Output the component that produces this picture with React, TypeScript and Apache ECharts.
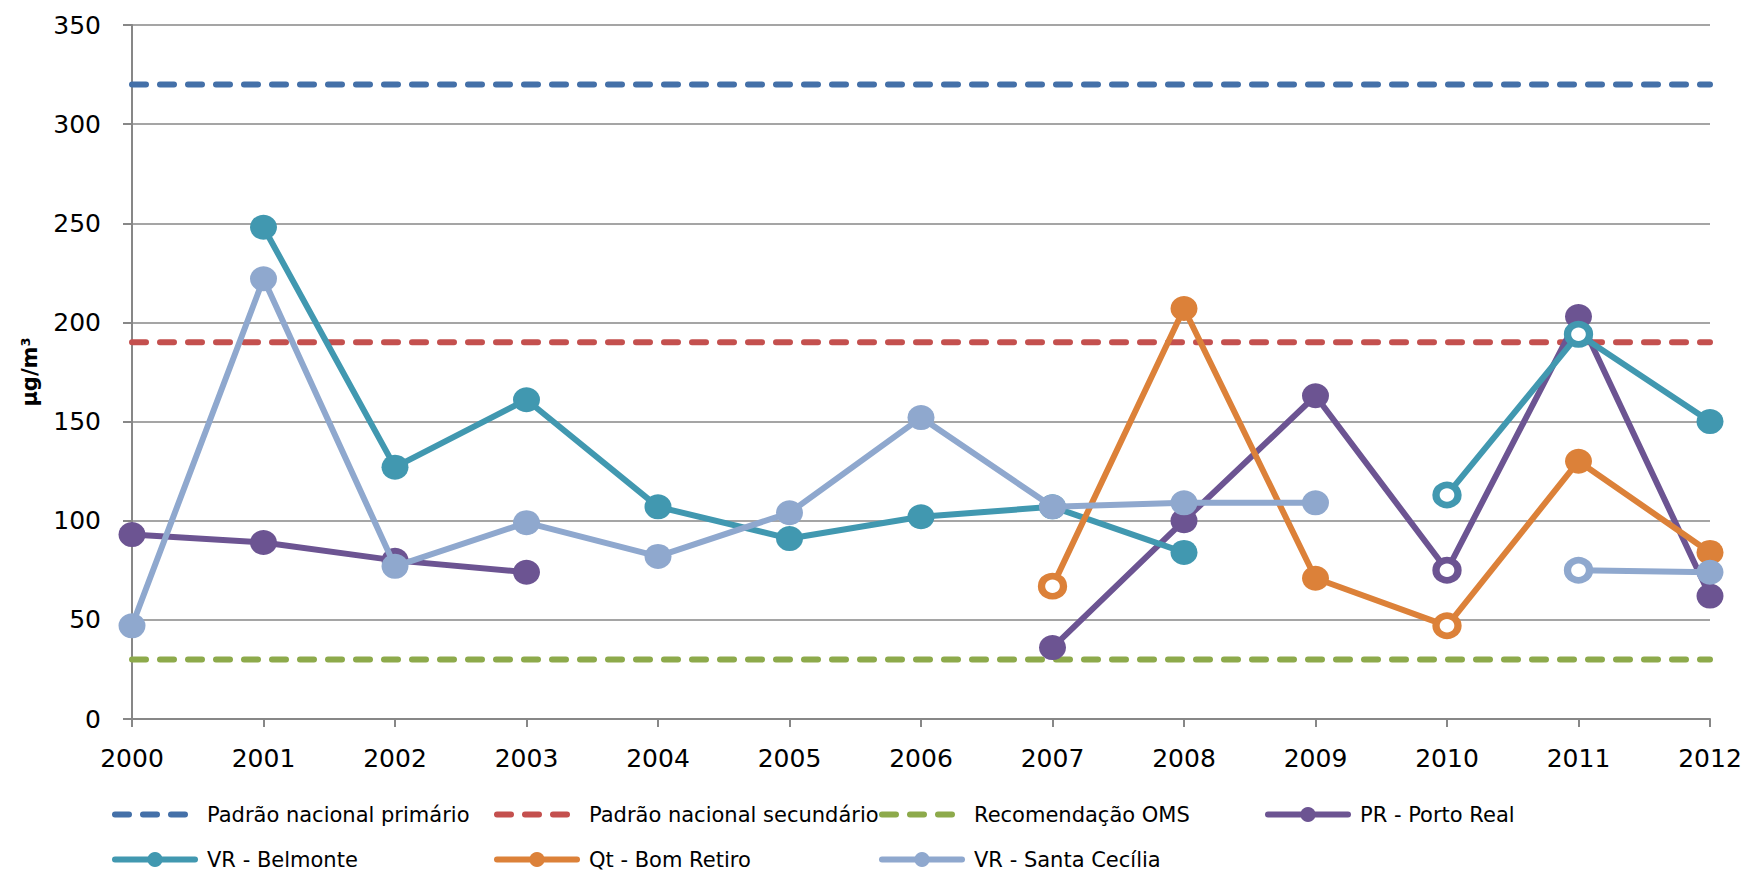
import React, { useEffect, useRef } from 'react';
import * as echarts from 'echarts';

const years = ['2000', '2001', '2002', '2003', '2004', '2005', '2006', '2007', '2008', '2009', '2010', '2011', '2012'];
const yTicks = { min: 0, max: 350, interval: 50 };

const padraoPrimario = [320, 320, 320, 320, 320, 320, 320, 320, 320, 320, 320, 320, 320];
const padraoSecundario = [190, 190, 190, 190, 190, 190, 190, 190, 190, 190, 190, 190, 190];
const recomendacaoOMS = [30, 30, 30, 30, 30, 30, 30, 30, 30, 30, 30, 30, 30];

const portoReal = [93, 89, 80, 74, null, null, null, 36, 100, 163, 75, 203, 62];
const belmonte = [null, 248, 127, 161, 107, 91, 102, 107, 84, null, 113, 194, 150];
const bomRetiro = [null, null, null, null, null, null, null, 67, 207, 71, 47, 130, 84];
const santaCecilia = [47, 222, 77, 99, 82, 104, 152, 107, 109, 109, null, 75, 74];

// years whose markers are drawn hollow
const portoRealOpen = ['2010'];
const belmonteOpen = ['2010', '2011'];
const bomRetiroOpen = ['2007', '2010'];
const santaCeciliaOpen = ['2011'];

const FONT = 'DejaVu Sans';

function markers(values: (number | null)[], open: string[], color: string) {
  return values.map((v, i) =>
    v === null
      ? null
      : open.includes(years[i])
      ? { value: v, symbolSize: [22, 20], itemStyle: { color: '#ffffff', borderColor: color, borderWidth: 7 } }
      : v
  );
}

function dashed(name: string, data: number[], color: string) {
  return {
    name,
    type: 'line',
    data,
    symbol: 'none',
    silent: true,
    z: 1,
    itemStyle: { color },
    lineStyle: { color, width: 6, type: [14, 14], cap: 'round' },
  };
}

function solid(name: string, values: (number | null)[], open: string[], color: string, z: number) {
  return {
    name,
    type: 'line',
    data: markers(values, open, color),
    symbol: 'circle',
    symbolSize: [27, 25],
    connectNulls: false,
    z,
    itemStyle: { color },
    lineStyle: { color, width: 6, join: 'round', cap: 'round' },
  };
}

export default function App() {
  const ref = useRef<HTMLDivElement>(null);
  useEffect(() => {
    if (!ref.current) return;
    const chart = echarts.init(ref.current, undefined, { renderer: 'svg' });
    const names = [
      'Padrão nacional primário',
      'Padrão nacional secundário',
      'Recomendação OMS',
      'PR - Porto Real',
      'VR - Belmonte',
      'Qt - Bom Retiro',
      'VR - Santa Cecília',
    ];
    const legendPos = [
      [112, 815],
      [494, 815],
      [879, 815],
      [1265, 815],
      [112, 860],
      [494, 860],
      [879, 860],
    ];
    const axisGray = '#878787';
    chart.setOption({
      animation: false,
      backgroundColor: '#ffffff',
      grid: { left: 132, right: 39, top: 25, bottom: 152, containLabel: false },
      xAxis: {
        type: 'category',
        data: years,
        boundaryGap: false,
        axisLine: { lineStyle: { color: axisGray, width: 2 } },
        axisTick: { show: true, length: 8, lineStyle: { color: axisGray, width: 2 } },
        axisLabel: { color: '#000', fontFamily: FONT, fontSize: 25, margin: 27 },
        splitLine: { show: false },
      },
      yAxis: {
        type: 'value',
        min: yTicks.min,
        max: yTicks.max,
        interval: yTicks.interval,
        name: 'μg/m³',
        nameLocation: 'middle',
        nameRotate: 90,
        nameGap: 92,
        nameTextStyle: { color: '#000', fontFamily: FONT, fontWeight: 'bold', fontSize: 21 },
        axisLine: { show: true, lineStyle: { color: axisGray, width: 2 } },
        axisTick: { show: true, length: 9, lineStyle: { color: axisGray, width: 2 } },
        axisLabel: { color: '#000', fontFamily: FONT, fontSize: 25, margin: 31 },
        splitLine: { show: true, lineStyle: { color: axisGray, width: 1.5 } },
      },
      legend: names.map((n, i) => ({
        data: [
          i < 3
            ? { name: n, itemStyle: { opacity: 0 } }
            : { name: n },
        ],
        left: legendPos[i][0],
        top: legendPos[i][1] - 11,
        padding: 0,
        itemWidth: 80,
        itemHeight: 19,
        selectedMode: false,
        lineStyle: { width: 6, cap: 'round' },
        textStyle: { color: '#000', fontFamily: FONT, fontSize: 21, padding: [0, 0, 0, 7] },
      })),
      series: [
        dashed(names[0], padraoPrimario, '#4470A8'),
        dashed(names[1], padraoSecundario, '#C4504E'),
        dashed(names[2], recomendacaoOMS, '#8DAA4B'),
        solid(names[3], portoReal, portoRealOpen, '#6C5492', 3),
        solid(names[4], belmonte, belmonteOpen, '#4198B0', 4),
        solid(names[5], bomRetiro, bomRetiroOpen, '#DC8139', 5),
        solid(names[6], santaCecilia, santaCeciliaOpen, '#8FA8CE', 6),
      ],
    });
    return () => chart.dispose();
  }, []);
  return <div ref={ref} style={{ position: 'absolute', left: 0, top: 0, width: 1749, height: 871 }} />;
}
